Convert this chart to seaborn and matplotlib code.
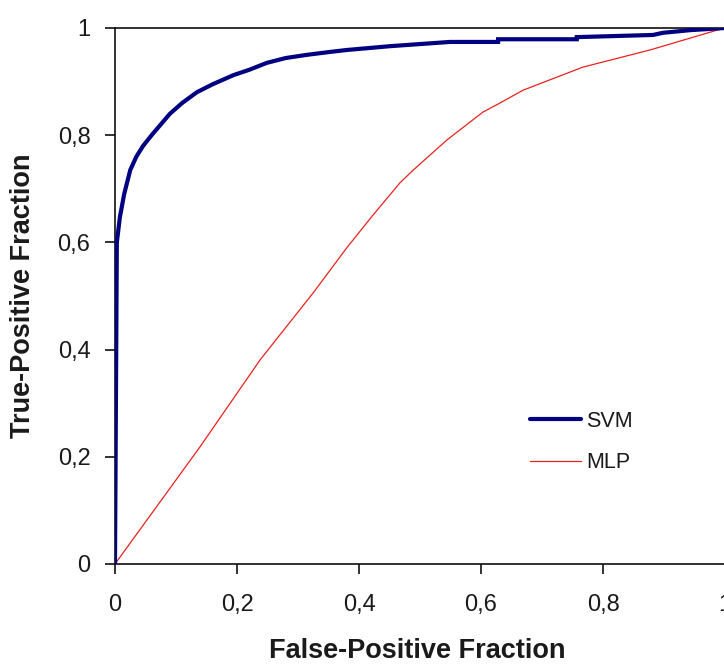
import matplotlib
matplotlib.use("Agg")
import matplotlib.pyplot as plt
import seaborn as sns
import pandas as pd
from matplotlib.ticker import FixedLocator, FuncFormatter

# ---- data ----
svm_fpr = [0, 0.003, 0.008, 0.015, 0.025, 0.035, 0.046, 0.06, 0.075, 0.09, 0.11, 0.134,
           0.16, 0.194, 0.22, 0.249, 0.28, 0.315, 0.35, 0.38, 0.45, 0.549, 0.628, 0.628,
           0.757, 0.757, 0.882, 0.898, 0.943, 1.0]
svm_tpr = [0, 0.60, 0.647, 0.69, 0.735, 0.76, 0.78, 0.80, 0.82, 0.84, 0.86, 0.88,
           0.895, 0.912, 0.922, 0.935, 0.944, 0.95, 0.955, 0.959, 0.966, 0.974, 0.974, 0.979,
           0.979, 0.983, 0.987, 0.991, 0.996, 1.0]

mlp_fpr = [0, 0.139, 0.238, 0.325, 0.380, 0.423, 0.467, 0.489, 0.544, 0.603, 0.631,
           0.669, 0.767, 0.877, 0.987, 1.0]
mlp_tpr = [0, 0.218, 0.381, 0.506, 0.590, 0.651, 0.711, 0.735, 0.791, 0.843, 0.860,
           0.884, 0.927, 0.959, 0.996, 1.0]

tick_values = [0, 0.2, 0.4, 0.6, 0.8, 1.0]
tick_labels = ["0", "0,2", "0,4", "0,6", "0,8", "1"]
series_names = ["SVM", "MLP"]
x_label = "False-Positive Fraction"
y_label = "True-Positive Fraction"

sns.set_theme(style="white")
plt.rcParams["font.family"] = ["Liberation Sans", "DejaVu Sans"]

W, H = 724, 664
fig = plt.figure(figsize=(W / 100, H / 100), dpi=100)
ax = fig.add_axes([115 / W, (H - 564) / H, 610 / W, 536 / H])

df_svm = pd.DataFrame({"fpr": svm_fpr, "tpr": svm_tpr})
df_mlp = pd.DataFrame({"fpr": mlp_fpr, "tpr": mlp_tpr})

sns.lineplot(data=df_mlp, x="fpr", y="tpr", sort=False, estimator=None, ax=ax,
             color="#e8211f", linewidth=0.9, label=series_names[1], zorder=3)
sns.lineplot(data=df_svm, x="fpr", y="tpr", sort=False, estimator=None, ax=ax,
             color="#000080", linewidth=3.0, label=series_names[0], zorder=4,
             solid_joinstyle="miter")

ax.set_xlim(0, 1)
ax.set_ylim(0, 1)
ax.set_facecolor("white")

for side in ["left", "bottom", "top"]:
    ax.spines[side].set_visible(True)
    ax.spines[side].set_color("#111111")
    ax.spines[side].set_linewidth(1.2)
ax.spines["right"].set_visible(False)

ax.xaxis.set_major_locator(FixedLocator(tick_values))
ax.yaxis.set_major_locator(FixedLocator(tick_values))
fmt = FuncFormatter(lambda v, p: tick_labels[min(range(len(tick_values)), key=lambda i: abs(tick_values[i] - v))])
ax.xaxis.set_major_formatter(fmt)
ax.yaxis.set_major_formatter(fmt)

ax.tick_params(axis="both", which="major", direction="out", length=7.2, width=1.2,
               color="#111111", labelsize=17, labelcolor="#1a1a1a")
ax.tick_params(axis="x", bottom=True, pad=14.5)
ax.tick_params(axis="y", left=True, pad=10.5)
for lab in ax.get_xticklabels() + ax.get_yticklabels():
    lab.set_clip_on(False)

ax.set_xlabel(x_label, fontsize=19.5, fontweight="bold", color="#1a1a1a", va="center")
ax.set_ylabel(y_label, fontsize=19.5, fontweight="bold", color="#1a1a1a", va="center")
ax.xaxis.set_label_coords((417.5 - 115) / 610, (564 - 651) / 536)
ax.yaxis.set_label_coords((23 - 115) / 610, 0.5)

handles, labels = ax.get_legend_handles_labels()
order = [labels.index(n) for n in series_names]
leg = ax.legend([handles[i] for i in order], [labels[i] for i in order],
                loc="center left", bbox_to_anchor=((530 - 115) / 610, (564 - 442) / 536),
                frameon=False, fontsize=15.5, handlelength=2.36, handletextpad=0.25,
                labelspacing=0.95, borderpad=0, borderaxespad=0)
for t in leg.get_texts():
    t.set_color("#1a1a1a")

fig.savefig("out.png", dpi=100, facecolor="white")
